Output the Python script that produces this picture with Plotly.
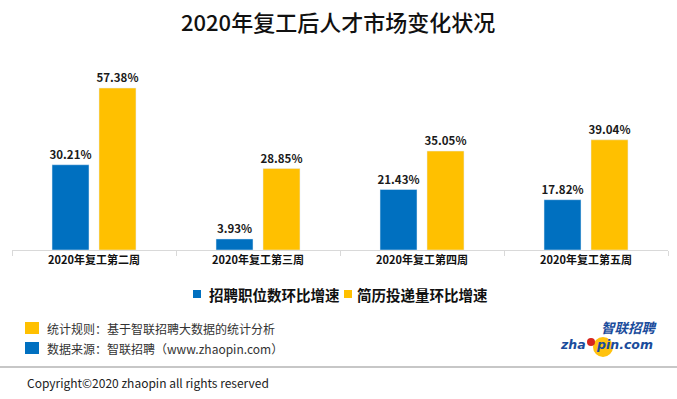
import plotly.graph_objects as go

W, H = 677, 399

categories = ["2020年复工第二周", "2020年复工第三周", "2020年复工第四周", "2020年复工第五周"]
series_names = ["招聘职位数环比增速", "简历投递量环比增速"]
jobs_growth = [30.21, 3.93, 21.43, 17.82]
resume_growth = [57.38, 28.85, 35.05, 39.04]
colors = ["#0070C0", "#FFC000"]

title_text = "2020年复工后人才市场变化状况"
note_rule = "统计规则：基于智联招聘大数据的统计分析"
note_source = "数据来源：智联招聘（www.zhaopin.com）"
copyright_text = "Copyright©2020 zhaopin all rights reserved"

FONT = "Noto Sans CJK SC"

def px(x):
    return x / W

def py(y):
    return 1 - y / H

fig = go.Figure()
for name, vals, col in zip(series_names, [jobs_growth, resume_growth], colors):
    fig.add_trace(go.Bar(
        x=categories, y=vals, name=name, marker_color=col,
        text=[f"{v:.2f}%" for v in vals], textposition="outside",
        constraintext="none", cliponaxis=False,
        textfont=dict(family=FONT, size=11.5, color="#1a1a1a", weight="bold"),
        showlegend=False,
    ))

shapes = []
annotations = []

# title
annotations.append(dict(x=px(338), y=py(21), xref="paper", yref="paper", text=title_text,
                        showarrow=False, xanchor="center", yanchor="middle",
                        font=dict(family=FONT, size=22, color="#111111", weight=500)))

# custom legend
leg = [(193, 207, series_names[0], colors[0]), (344, 355, series_names[1], colors[1])]
for sx, tx, name, col in leg:
    shapes.append(dict(type="rect", xref="paper", yref="paper",
                       x0=px(sx), x1=px(sx + 8), y0=py(298), y1=py(290),
                       fillcolor=col, line=dict(width=0)))
    annotations.append(dict(x=px(tx), y=py(294), xref="paper", yref="paper", text=name,
                            showarrow=False, xanchor="left", yanchor="middle",
                            font=dict(family=FONT, size=14.5, color="#111111", weight="bold")))

# footer notes
for yc, txt, col in [(328, note_rule, colors[1]), (348, note_source, colors[0])]:
    shapes.append(dict(type="rect", xref="paper", yref="paper",
                       x0=px(25), x1=px(39), y0=py(yc + 6), y1=py(yc - 6),
                       fillcolor=col, line=dict(width=0)))
    annotations.append(dict(x=px(45), y=py(yc), xref="paper", yref="paper", text=txt,
                            showarrow=False, xanchor="left", yanchor="middle",
                            font=dict(family=FONT, size=12, color="#333333")))

# separator
shapes.append(dict(type="line", xref="paper", yref="paper", x0=0, x1=1,
                   y0=py(367), y1=py(367), line=dict(color="#b5b5b5", width=1.5)))
annotations.append(dict(x=px(25), y=py(382), xref="paper", yref="paper", text=copyright_text,
                        showarrow=False, xanchor="left", yanchor="middle",
                        font=dict(family=FONT, size=12, color="#222222")))

# logo
logo_blue = "#1A4C9C"
shapes.append(dict(type="circle", xref="paper", yref="paper",
                   x0=px(593), x1=px(613), y0=py(357), y1=py(337),
                   fillcolor="#FFC20E", line=dict(width=0), layer="below"))
shapes.append(dict(type="circle", xref="paper", yref="paper",
                   x0=px(587), x1=px(595), y0=py(346), y1=py(338),
                   fillcolor="#D7261E", line=dict(width=0)))
annotations.append(dict(x=px(659), y=py(327), xref="paper", yref="paper", text="<i>智联招聘</i>",
                        showarrow=False, xanchor="right", yanchor="middle", borderpad=0,
                        font=dict(family=FONT, size=13.5, color=logo_blue, weight="bold")))
annotations.append(dict(x=px(587), y=py(344), xref="paper", yref="paper", text="<i>zha</i>",
                        showarrow=False, xanchor="right", yanchor="middle", borderpad=0,
                        font=dict(family="DejaVu Sans", size=12.5, color=logo_blue, weight="bold")))
annotations.append(dict(x=px(595), y=py(344), xref="paper", yref="paper", text="<i>pin.com</i>",
                        showarrow=False, xanchor="left", yanchor="middle", borderpad=0,
                        font=dict(family="DejaVu Sans", size=12.5, color=logo_blue, weight="bold")))

fig.update_layout(
    width=W, height=H, margin=dict(l=0, r=0, t=0, b=0),
    paper_bgcolor="white", plot_bgcolor="white",
    barmode="group", bargap=0.427, bargroupgap=0.213,
    shapes=shapes, annotations=annotations,
    font=dict(family=FONT),
    xaxis=dict(domain=[px(12), px(668)], showline=True, linecolor="#d9d9d9", linewidth=1,
               ticks="outside", tickson="boundaries", ticklen=5, tickcolor="#d9d9d9",
               tickfont=dict(family=FONT, size=11, color="#111111", weight="bold"),
               showgrid=False, zeroline=False, fixedrange=True),
    yaxis=dict(domain=[py(250), py(50)], range=[0, 70.85], visible=False,
               showgrid=False, zeroline=False, fixedrange=True),
)

fig.write_html("out.html", config={"displayModeBar": False},
               post_script="document.body.style.margin='0';document.body.style.overflow='hidden';")
